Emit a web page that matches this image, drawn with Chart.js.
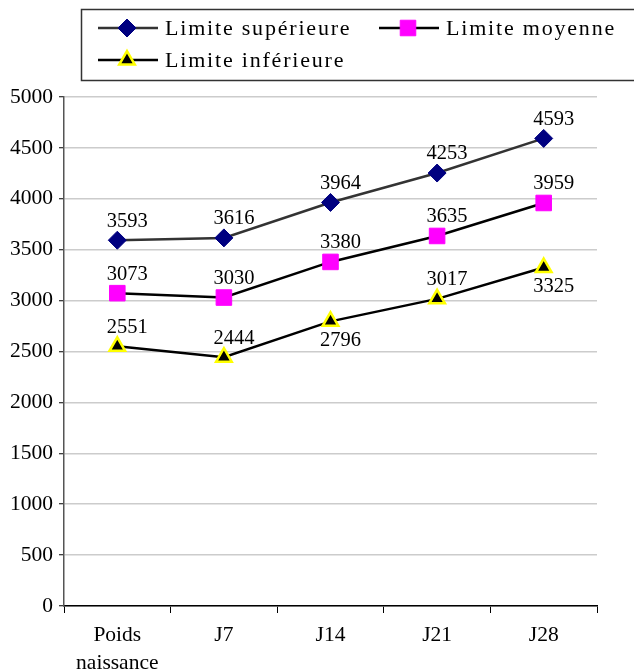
<!DOCTYPE html>
<html>
<head>
<meta charset="utf-8">
<script src="https://cdn.jsdelivr.net/npm/chart.js@4.4.1/dist/chart.umd.min.js"></script>
<style>
  html, body { margin: 0; padding: 0; background: #fff; }
  #wrap { width: 634px; height: 672px; position: relative; }
</style>
</head>
<body>
<div id="wrap"><canvas id="myChart"></canvas></div>
<script>
// categories and values
const categories = [["Poids", "naissance"], "J7", "J14", "J21", "J28"];
const limiteSuperieure = [3593, 3616, 3964, 4253, 4593];
const limiteMoyenne = [3073, 3030, 3380, 3635, 3959];
const limiteInferieure = [2551, 2444, 2796, 3017, 3325];
const yTicks = [0, 500, 1000, 1500, 2000, 2500, 3000, 3500, 4000, 4500, 5000];

const FONT = "'Liberation Serif', 'Times New Roman', serif";

// where the value label of each point goes: 'up' or 'down'
const labelSide = [
    ['up', 'up', 'up', 'up', 'up'],
    ['up', 'up', 'up', 'up', 'up'],
    ['up', 'up', 'down', 'up', 'down']
];

const valueLabels = {
    id: 'valueLabels',
    afterDatasetsDraw(chart) {
        const ctx = chart.ctx;
        ctx.save();
        ctx.font = "20.5px " + FONT;
        ctx.fillStyle = '#000';
        ctx.textAlign = 'center';
        ctx.textBaseline = 'middle';
        chart.data.datasets.forEach((ds, i) => {
            const meta = chart.getDatasetMeta(i);
            meta.data.forEach((pt, j) => {
                let dy = labelSide[i][j] === 'down' ? 19 : -19;
                ctx.fillText(String(ds.data[j]), pt.x + 10, pt.y + dy);
            });
        });
        ctx.restore();
    }
};

// legend box drawn like the original (line through the marker)
const boxLegend = {
    id: 'boxLegend',
    afterDraw(chart) {
        const ctx = chart.ctx;
        const items = [
            { x: 98, y: 28 },
            { x: 379, y: 28 },
            { x: 98, y: 60 }
        ];
        ctx.save();
        ctx.strokeStyle = '#333';
        ctx.lineWidth = 1.5;
        ctx.strokeRect(81.5, 9.5, 600, 71);
        chart.data.datasets.forEach((ds, i) => {
            const it = items[i];
            ctx.strokeStyle = ds.borderColor;
            ctx.lineWidth = 2.5;
            ctx.beginPath();
            ctx.moveTo(it.x, it.y);
            ctx.lineTo(it.x + 60, it.y);
            ctx.stroke();
            ctx.fillStyle = ds.pointBackgroundColor;
            ctx.strokeStyle = ds.pointBorderColor;
            ctx.lineWidth = ds.pointBorderWidth;
            Chart.helpers.drawPoint(ctx, {
                pointStyle: ds.pointStyle,
                radius: ds.pointRadius,
                rotation: 0,
                borderWidth: ds.pointBorderWidth
            }, it.x + 29, it.y);
            ctx.fillStyle = '#000';
            ctx.font = "22px " + FONT;
            ctx.letterSpacing = '1.8px';
            ctx.textAlign = 'left';
            ctx.textBaseline = 'middle';
            ctx.fillText(ds.label, it.x + 67, it.y + 1);
        });
        ctx.restore();
    }
};

const data = {
    labels: categories,
    datasets: [
        {
            label: 'Limite supérieure',
            data: limiteSuperieure,
            borderColor: '#333333',
            borderWidth: 2.5,
            pointStyle: 'rectRot',
            pointRadius: 9,
            pointBackgroundColor: '#000080',
            pointBorderColor: '#000080',
            pointBorderWidth: 1,
            tension: 0
        },
        {
            label: 'Limite moyenne',
            data: limiteMoyenne,
            borderColor: '#000000',
            borderWidth: 2.5,
            pointStyle: 'rect',
            pointRadius: 11,
            pointBackgroundColor: '#ff00ff',
            pointBorderColor: '#ff00ff',
            pointBorderWidth: 1,
            tension: 0
        },
        {
            label: 'Limite inférieure',
            data: limiteInferieure,
            borderColor: '#000000',
            borderWidth: 2.5,
            pointStyle: 'triangle',
            pointRadius: 9,
            pointBackgroundColor: '#000000',
            pointBorderColor: '#ffff00',
            pointBorderWidth: 2.5,
            tension: 0
        }
    ]
};

const config = {
    type: 'line',
    data: data,
    options: {
        responsive: true,
        maintainAspectRatio: false,
        animation: false,
        layout: {
            padding: { top: 97, right: 37, left: 0, bottom: 0 }
        },
        plugins: {
            legend: { display: false },
            tooltip: { enabled: false }
        },
        scales: {
            x: {
                offset: true,
                grid: {
                    offset: true,
                    drawOnChartArea: false,
                    drawTicks: true,
                    tickLength: 7,
                    color: '#000',
                    lineWidth: 1
                },
                border: { color: '#000', width: 1.5 },
                ticks: {
                    color: '#000',
                    font: { family: FONT, size: 21.5, lineHeight: '28px' },
                    padding: 8,
                    maxRotation: 0,
                    autoSkip: false
                },
                afterFit(s) { s.height = 66; }
            },
            y: {
                min: 0,
                max: 5000,
                afterBuildTicks(s) { s.ticks = yTicks.map(v => ({ value: v })); },
                grid: {
                    color: '#cccccc',
                    lineWidth: 1.5,
                    drawTicks: true,
                    tickLength: 5,
                    tickColor: '#000',
                    tickWidth: 1
                },
                border: { color: '#555', width: 1.5 },
                ticks: {
                    color: '#000',
                    font: { family: FONT, size: 21.5 },
                    padding: 6,
                    callback: v => String(v)
                },
                afterFit(s) { s.width = 64; }
            }
        }
    },
    plugins: [valueLabels, boxLegend]
};

const myChart = new Chart(document.getElementById('myChart'), config);
</script>
</body>
</html>
